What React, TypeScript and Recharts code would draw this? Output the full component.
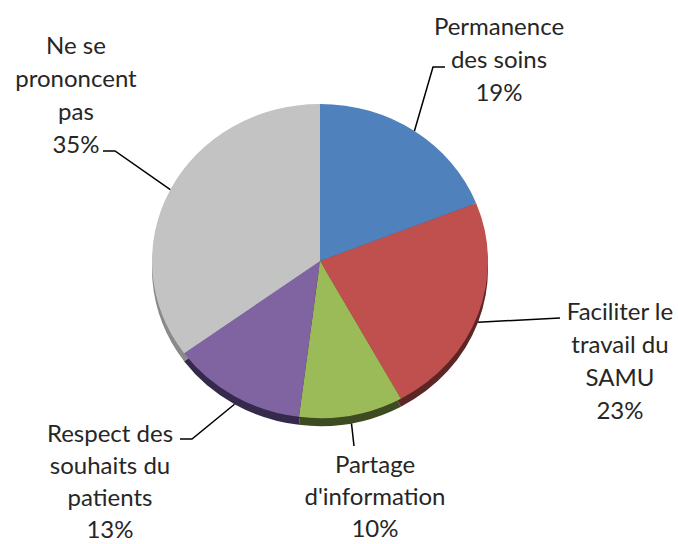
import React from "react";
import { PieChart, Pie, Cell, Sector } from "recharts";

// ---- data ----
const categories = [
  "Permanence\ndes soins",
  "Faciliter le\ntravail du\nSAMU",
  "Partage\nd'information",
  "Respect des\nsouhaits du\npatients",
  "Ne se\nprononcent\npas",
];
const values = [19, 23, 10, 13, 35];

// ---- styles / layout ----
const colors = ["#4f81bd", "#c0504d", "#9bbb59", "#8064a2", "#c3c3c3"];
const depthColors = ["#3a5f8c", "#5c2624", "#3e4a22", "#352a4c", "#8a8a8a"];
const CX = 320;
const CY = 261;
const R = 168;
const SY = 0.935;
const DEPTH = 8;
const FONT = 24;

const labelLayout = [
  { x: 499, y: 27, lh: 33, pts: [[433, 67], [445, 67]] },
  { x: 620, y: 312, lh: 33, pts: [[560, 318]] },
  { x: 375, y: 465, lh: 32, pts: [[354, 446]] },
  { x: 110, y: 434, lh: 32, pts: [[192, 439], [180, 439]] },
  { x: 76, y: 46, lh: 33, pts: [[115, 151], [103, 151]] },
];

const data = categories.map((name, i) => ({ name, value: values[i] }));
const total = values.reduce((a, b) => a + b, 0);

const ScaledSector = (props: any) => {
  const { cy } = props;
  return (
    <g transform={`translate(0 ${cy}) scale(1 ${SY}) translate(0 ${-cy})`}>
      <Sector {...props} />
    </g>
  );
};

const renderLabel = (props: any) => {
  const { cx, cy, midAngle, outerRadius, index } = props;
  const rad = (-midAngle * Math.PI) / 180;
  const sx = cx + outerRadius * Math.cos(rad);
  let sy = cy + outerRadius * Math.sin(rad) * SY;
  if (Math.sin(rad) > 0.05) sy += DEPTH;
  const lay = labelLayout[index];
  const pts = [[sx, sy], ...lay.pts].map((p) => p.join(",")).join(" ");
  const lines = categories[index].split("\n");
  lines.push(Math.round((values[index] / total) * 100) + "%");
  return (
    <g key={`lbl-${index}`}>
      <polyline points={pts} fill="none" stroke="#000" strokeWidth={1.5} />
      <text
        x={lay.x}
        y={lay.y + 8}
        textAnchor="middle"
        fill="#262626"
        fontSize={FONT}
        fontFamily="Lato, 'Open Sans', sans-serif"
      >
        {lines.map((ln, k) => (
          <tspan key={k} x={lay.x} dy={k === 0 ? 0 : lay.lh}>
            {ln}
          </tspan>
        ))}
      </text>
    </g>
  );
};

export default function App() {
  return (
    <div style={{ position: "absolute", left: 0, top: 0, width: 678, height: 544, background: "#fff" }}>
      <PieChart width={678} height={544} margin={{ top: 0, right: 0, bottom: 0, left: 0 }}>
        <Pie
          data={data}
          dataKey="value"
          nameKey="name"
          cx={CX}
          cy={CY + DEPTH}
          outerRadius={R}
          startAngle={90}
          endAngle={-270}
          stroke="none"
          isAnimationActive={false}
          label={false}
          labelLine={false}
          shape={ScaledSector}
        >
          {data.map((d, i) => (
            <Cell key={`d-${i}`} fill={depthColors[i]} />
          ))}
        </Pie>
        <Pie
          data={data}
          dataKey="value"
          nameKey="name"
          cx={CX}
          cy={CY}
          outerRadius={R}
          startAngle={90}
          endAngle={-270}
          stroke="none"
          isAnimationActive={false}
          label={renderLabel}
          labelLine={false}
          shape={ScaledSector}
        >
          {data.map((d, i) => (
            <Cell key={`c-${i}`} fill={colors[i]} />
          ))}
        </Pie>
      </PieChart>
    </div>
  );
}
